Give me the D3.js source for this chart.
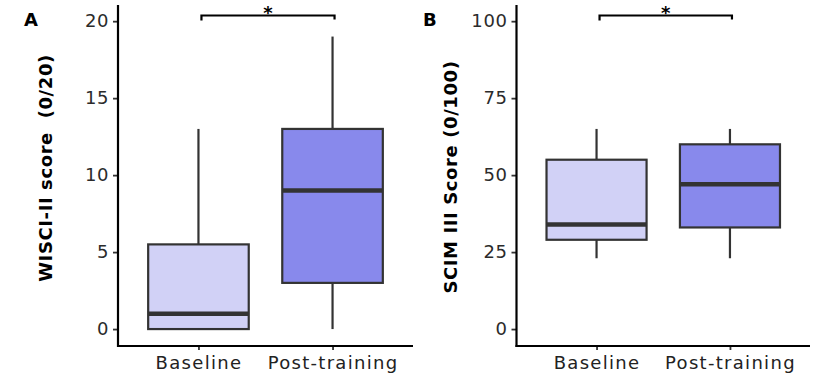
<!DOCTYPE html>
<html>
<head>
<meta charset="utf-8">
<script src="https://cdn.jsdelivr.net/npm/d3@7"></script>
<style>
  body { margin: 0; background: #fff; }
  svg text { font-family: "DejaVu Sans", sans-serif; }
</style>
</head>
<body>
<div id="chart"></div>
<script>
// box summaries: [min, q1, median, q3, max]
let groups = ['Baseline', 'Post-training'];
let wisciStats = [[0, 0, 1, 5.5, 13], [0, 3, 9, 13, 19]];
let scimStats = [[23, 29, 34, 55, 65], [23, 33, 47, 60, 65]];
let wisciTicks = [0, 5, 10, 15, 20];
let scimTicks = [0, 25, 50, 75, 100];
let fills = ['#d1d1f6', '#8889ec'];

let svg = d3.select('#chart').append('svg')
  .attr('width', 816)
  .attr('height', 380);

let drawPanel = function(opts) {
  let x = d3.scaleLinear().domain([0.4, 2.6]).range([opts.left, opts.right]);
  let y = d3.scaleLinear().domain(opts.domain).range([346, 5]);
  let g = svg.append('g');

  // y axis
  let yAxis = d3.axisLeft(y).tickValues(opts.ticks).tickSize(5).tickPadding(4);
  let ya = g.append('g').attr('transform', `translate(${opts.left},0)`).call(yAxis);
  ya.select('.domain').remove();
  ya.selectAll('.tick line').attr('stroke', '#333').attr('stroke-width', 1.8);
  ya.selectAll('.tick text').attr('fill', '#2b2b2b')
    .style('font-size', '18px').style('letter-spacing', '0.6px');

  // x axis
  let xAxis = d3.axisBottom(x).tickValues([1, 2]).tickFormat(d => groups[d - 1]).tickSize(4).tickPadding(6);
  let xa = g.append('g').attr('transform', 'translate(0,346)').call(xAxis);
  xa.select('.domain').remove();
  xa.selectAll('.tick line').attr('stroke', '#333').attr('stroke-width', 1.8);
  xa.selectAll('.tick text').attr('fill', '#222')
    .style('font-size', '18px').style('letter-spacing', '1.3px');

  // axis lines
  g.append('line').attr('x1', opts.left).attr('x2', opts.left).attr('y1', 5).attr('y2', 347)
    .attr('stroke', '#000').attr('stroke-width', 2.2);
  g.append('line').attr('x1', opts.left - 1).attr('x2', opts.right).attr('y1', 346).attr('y2', 346)
    .attr('stroke', '#000').attr('stroke-width', 2.2);

  opts.stats.forEach(function(s, i) {
    let cx = x(i + 1);
    let half = (x(1.375) - x(1));
    g.append('line').attr('x1', cx).attr('x2', cx).attr('y1', y(s[0])).attr('y2', y(s[1]))
      .attr('stroke', '#333').attr('stroke-width', 2.2);
    g.append('line').attr('x1', cx).attr('x2', cx).attr('y1', y(s[3])).attr('y2', y(s[4]))
      .attr('stroke', '#333').attr('stroke-width', 2.2);
    g.append('rect')
      .attr('x', cx - half).attr('width', half * 2)
      .attr('y', y(s[3])).attr('height', y(s[1]) - y(s[3]))
      .attr('fill', fills[i]).attr('stroke', '#333').attr('stroke-width', 2.2);
    g.append('line').attr('x1', cx - half).attr('x2', cx + half).attr('y1', y(s[2])).attr('y2', y(s[2]))
      .attr('stroke', '#333').attr('stroke-width', 4.5);
  });

  // significance bracket
  let by = 15.5;
  let x1 = x(1) + 3, x2 = x(2) + 2;
  g.append('path')
    .attr('d', `M${x1},${by + 5}V${by}H${x2}V${by + 4}`)
    .attr('fill', 'none').attr('stroke', '#000').attr('stroke-width', 2.2);
  g.append('text').attr('x', (x1 + x2) / 2).attr('y', 19).attr('text-anchor', 'middle')
    .style('font-size', '18px').style('font-weight', 'bold').text('*');

  // y title
  g.append('text')
    .attr('transform', `translate(${opts.titleX},${opts.titleY}) rotate(-90)`)
    .attr('text-anchor', 'middle')
    .style('font-size', '18px').style('font-weight', 'bold')
    .style('letter-spacing', '0.6px')
    .text(opts.title);

  // panel letter
  g.append('text').attr('x', opts.letterX).attr('y', 26)
    .style('font-size', '18px').style('font-weight', 'bold').text(opts.letter);
};

drawPanel({
  left: 118, right: 413, domain: [-1.1, 21.05], ticks: wisciTicks, stats: wisciStats,
  title: 'WISCI-II score\u00a0\u00a0(0/20)', titleX: 52, titleY: 168, letter: 'A', letterX: 24
});
drawPanel({
  left: 516.5, right: 810, domain: [-5.5, 105.25], ticks: scimTicks, stats: scimStats,
  title: 'SCIM III Score (0/100)', titleX: 457, titleY: 177, letter: 'B', letterX: 423
});
</script>
</body>
</html>
